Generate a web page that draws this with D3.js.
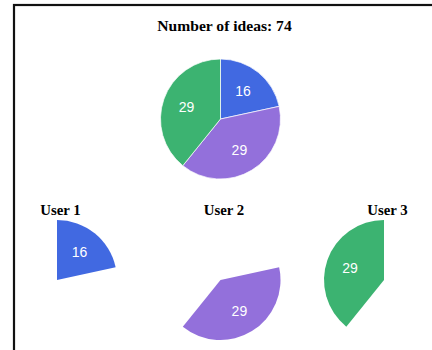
<!DOCTYPE html>
<html>
<head>
<meta charset="utf-8">
<script src="https://cdn.jsdelivr.net/npm/d3@7"></script>
<style>
html,body{margin:0;padding:0;background:#fff;}
svg{display:block;}
</style>
</head>
<body>
<svg id="chart" width="432" height="350"></svg>
<script>
const title = "Number of ideas: 74";
const users = ["User 1", "User 2", "User 3"];
const ideas = [16, 29, 29];
const colors = ["#4169E1", "#9370DB", "#3CB371"];

const svg = d3.select("#chart");
const R = 60;

// frame
svg.append("rect").attr("x", 14).attr("y", 5).attr("width", 500).attr("height", 400)
  .attr("fill", "none").attr("stroke", "#111").attr("stroke-width", 2.2);

svg.append("text").attr("x", 224.5).attr("y", 31).attr("text-anchor", "middle")
  .attr("font-family", "Liberation Serif, Times New Roman, serif").attr("font-weight", "bold")
  .attr("font-size", 15.6).attr("fill", "#000").text(title);

const pie = d3.pie().sort(null).value(d => d);
const arcs = pie(ideas);
const arc = d3.arc().innerRadius(0).outerRadius(R);
const labelArc = d3.arc().innerRadius(R * 0.6).outerRadius(R * 0.6);

// main pie
const main = svg.append("g").attr("transform", "translate(220.5,119)");
main.selectAll("path").data(arcs).join("path")
  .attr("d", arc).attr("fill", (d, i) => colors[i])
  .attr("stroke", "#fff").attr("stroke-width", 0.7);
main.selectAll("text").data(arcs).join("text")
  .attr("transform", d => `translate(${labelArc.centroid(d)})`)
  .attr("text-anchor", "middle").attr("dy", "0.35em")
  .attr("font-family", "Liberation Sans, Arial, Helvetica, sans-serif").attr("font-size", 14)
  .attr("fill", "#fff").text(d => d.data);

// user pies
const x = d3.scalePoint().domain(users).range([57, 384]);
users.forEach((u, i) => {
  const cx = x(u);
  svg.append("text").attr("x", cx + 3.5).attr("y", 214.5).attr("text-anchor", "middle")
    .attr("font-family", "Liberation Serif, Times New Roman, serif").attr("font-weight", "bold")
    .attr("font-size", 14.8).attr("fill", "#000").text(u);
  const g = svg.append("g").attr("transform", `translate(${cx},280)`);
  g.append("path").attr("d", arc(arcs[i])).attr("fill", colors[i]);
  g.append("text").attr("transform", `translate(${labelArc.centroid(arcs[i])})`)
    .attr("text-anchor", "middle").attr("dy", "0.35em")
    .attr("font-family", "Liberation Sans, Arial, Helvetica, sans-serif").attr("font-size", 14)
    .attr("fill", "#fff").text(ideas[i]);
});
</script>
</body>
</html>
